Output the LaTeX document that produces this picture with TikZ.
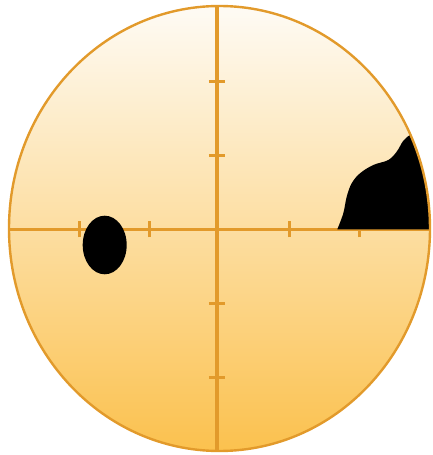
\documentclass[tikz,border=0pt]{standalone}
\usepackage{xcolor}
\usepackage{tikz}
\usetikzlibrary{calc}
\definecolor{mira}{RGB}{226,154,43}
\definecolor{fondoA}{RGB}{254,251,245}
\definecolor{fondoB}{RGB}{253,231,192}
\definecolor{fondoC}{RGB}{251,193,78}
\tikzset{
  campo/.style={top color=fondoA,middle color=fondoB,bottom color=fondoC},
  borde/.style={draw=mira,line width=2.4pt},
  ejes/.style={mira,line width=3.2pt},
  marca/.style={mira,line width=3pt},
  mancha/.style={fill=black}
}

\begin{document}
\begin{tikzpicture}[x=1pt,y=1pt]
\useasboundingbox (-217,-225.7) rectangle (216,229.3);
\path[campo] (2.5,0.8) ellipse [x radius=210.5,y radius=222.5];
\begin{scope}
\clip (2.5,0.8) ellipse [x radius=210.5,y radius=222.5];
\draw[ejes] (-220,0)--(220,0);
\draw[ejes] (0,-230)--(0,232);
\foreach \t in {-137.8,-67.7,72.7,142.8}
  \draw[marca] (\t,-8)--(\t,8);
\foreach \t in {-148,-74,74,148}
  \draw[marca] (-8,\t)--(8,\t);
\fill[mancha] (-112.3,-15.7) ellipse [x radius=22,y radius=29.3];
\fill[mancha] plot[smooth,tension=0.6] coordinates {(120.3,0) (126.3,16) (129.7,32.6) (134.7,46) (143,56) (156.3,64.3) (171.3,69.3) (179.7,77.6) (186.3,88.6) (193,94.3) (198,96)}
  -- (230,100) -- (230,0) -- cycle;
\end{scope}
\draw[borde] (2.5,0.8) ellipse [x radius=210.5,y radius=222.5];
\end{tikzpicture}
\end{document}
